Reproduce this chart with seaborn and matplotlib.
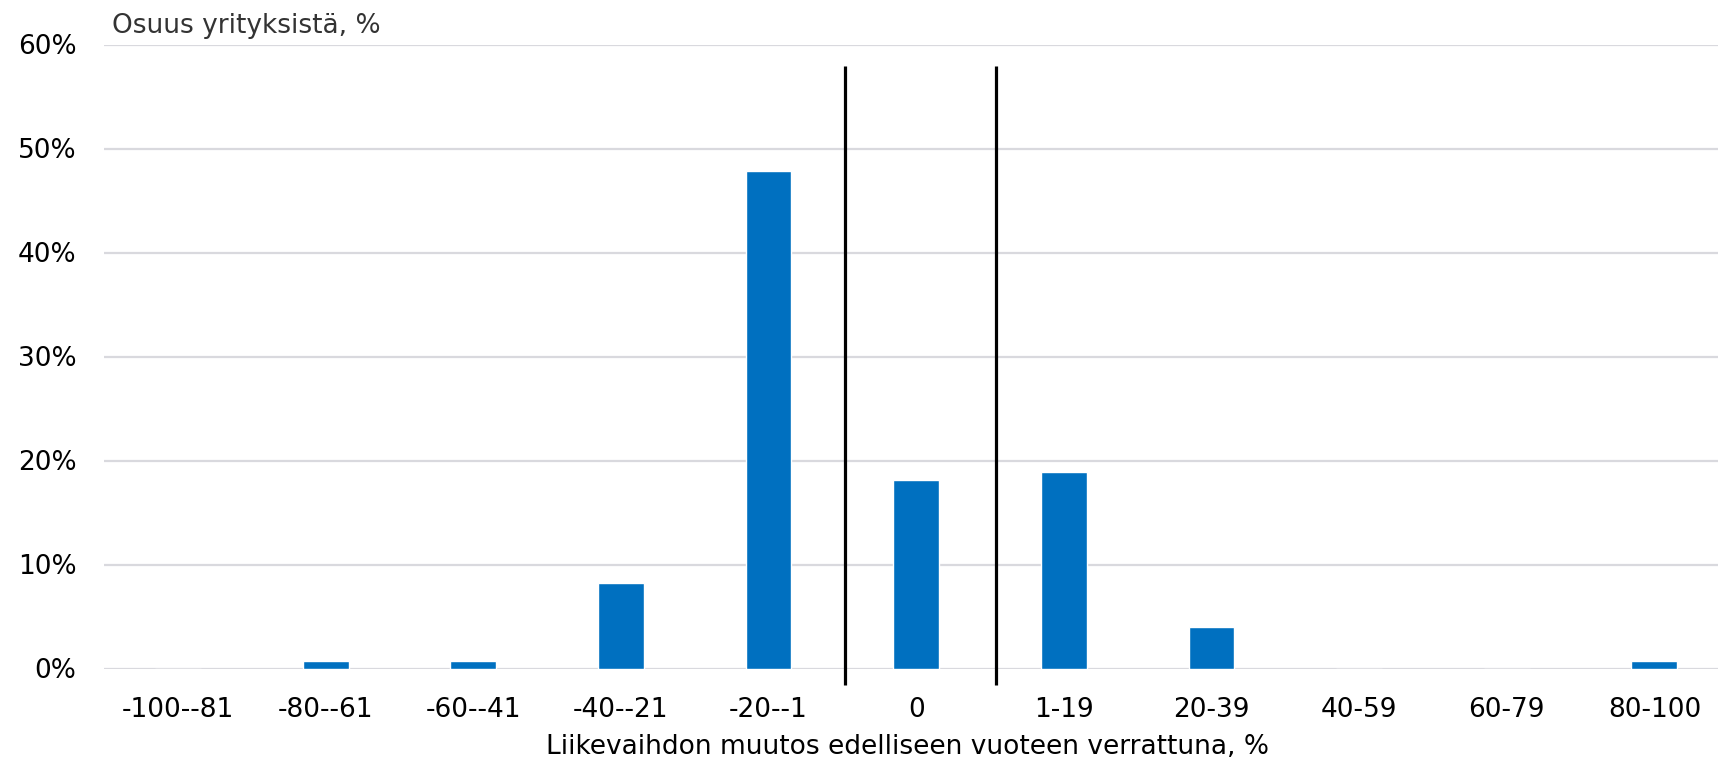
'''
Liikevaihdon muutos - jakauma yrityksittäin
'''

import matplotlib
matplotlib.use("Agg")
import matplotlib.pyplot as plt
import matplotlib.ticker as mtick
import seaborn as sns

# Data
l_categories = ["-100--81", "-80--61", "-60--41", "-40--21", "-20--1", "0",
                "1-19", "20-39", "40-59", "60-79", "80-100"]
l_share_pct = [0.0, 0.73, 0.73, 8.23, 47.87, 18.13, 18.92, 4.02, 0.0, 0.0, 0.73]
l_divider_pos = [4.517, 5.539]   # the two black lines around the "0" class
y_ticks = [0, 10, 20, 30, 40, 50, 60]

bar_color = "#0070C0"
grid_color = "#D9D9DE"
font_size = 19

sns.set_theme(style="white")
plt.rcParams["font.family"] = ["DejaVu Sans"]

fig = plt.figure(figsize=(17.18, 7.57), dpi=100)
# plot area runs a bit past the right edge, as in the original (cropped) chart
ax = fig.add_axes([104.2 / 1718, 88.5 / 757, 1624 / 1718, 624 / 757])

sns.barplot(x=l_categories, y=l_share_pct, color=bar_color, saturation=1,
            width=0.31, ax=ax, zorder=3)

ax.set_ylim(0, 60)
ax.set_xlim(-0.5, len(l_categories) - 0.5)
ax.set_yticks(y_ticks)
ax.yaxis.set_major_formatter(mtick.PercentFormatter(decimals=0))
ax.yaxis.grid(True, color=grid_color, linewidth=1.6, zorder=0)
ax.xaxis.grid(False)
ax.set_axisbelow(True)

for spine in ax.spines.values():
    spine.set_visible(False)

ax.tick_params(axis="y", length=0, pad=20, labelsize=font_size, labelcolor="black")
ax.tick_params(axis="x", length=0, pad=20.5, labelsize=font_size, labelcolor="black")

ax.vlines(l_divider_pos, -1.6, 57.9, color="black", linewidth=2.3,
          clip_on=False, zorder=4)

ax.set_ylabel("")
ax.set_xlabel("Liikevaihdon muutos edelliseen vuoteen verrattuna, %",
              fontsize=font_size, color="black", labelpad=8)
ax.xaxis.label.set_x((908 - 104.2) / 1624)

fig.text(112 / 1718, 1 - 33 / 757, "Osuus yrityksistä, %", fontsize=font_size,
         color="#333333", ha="left", va="baseline")

fig.savefig("out.png", dpi=100)
